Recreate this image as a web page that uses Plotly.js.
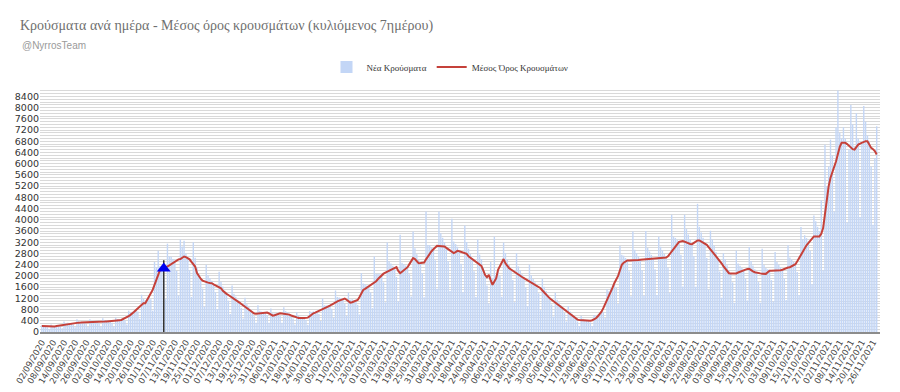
<!DOCTYPE html>
<html>
<head>
<meta charset="utf-8">
<script src="https://cdn.plot.ly/plotly-3.0.1.min.js"></script>
<style>html,body{margin:0;padding:0;background:#fff;}#chart{width:900px;height:392px;}</style>
</head>
<body>
<div id="chart"></div>
<script>
// First day of the series (02/09/2020), one value per day
const startDate = '2020-09-02';

// Daily new cases (Νέα Κρούσματα)
const newCases = [
  240,215,210,165,105,270,215,
  225,215,230,190,130,372,320,
  330,318,322,270,170,453,380,
  365,350,342,290,175,455,400,
  390,365,360,300,185,490,430,
  410,400,375,330,190,520,460,
  460,455,470,410,270,760,700,
  720,760,800,730,470,1330,1180,
  1130,1190,1260,1170,760,2500,2300,
  2900,2350,2250,1950,1170,3150,2700,
  2680,2600,2550,2180,1300,3300,3050,
  3250,2800,2600,2200,1250,3200,2650,
  2300,2080,1900,1550,900,2400,2020,
  1920,1830,1700,1420,820,2150,1790,
  1620,1470,1360,1120,640,1660,1360,
  1260,1150,1050,850,480,1220,990,
  890,800,700,560,330,950,760,
  730,700,680,590,330,840,670,
  660,660,650,570,330,880,745,
  710,650,590,480,270,700,575,
  540,520,500,430,260,750,710,
  735,725,720,640,390,1200,955,
  945,945,940,830,510,1480,1250,
  1230,1210,1180,1010,575,1400,1150,
  1170,1130,1110,970,625,2100,1725,
  1700,1660,1620,1410,850,2690,2080,
  2080,2060,2040,1770,1060,3190,2520,
  2440,2360,2280,1960,1090,3470,2470,
  2420,2370,2310,2060,1270,3580,2990,
  2770,2580,2460,2100,1240,4300,3100,
  3090,3020,2950,2560,1540,4300,3520,
  3360,3200,3000,2520,1460,4040,3230,
  3135,3040,2880,2430,1420,3800,3210,
  2970,2780,2600,2170,1250,3300,2760,
  2600,2300,2030,1660,1020,2500,1930,
  3400,2010,2220,2000,1260,3190,2820,
  2585,2390,2230,1850,1065,2810,2340,
  2200,2060,1920,1600,920,2400,2020,
  1890,1775,1650,1380,780,1900,1610,
  1460,1330,1200,980,550,1400,1150,
  1060,955,860,680,375,930,735,
  650,570,490,375,215,570,470,
  440,415,395,340,210,610,560,
  620,670,730,720,500,1520,1450,
  1560,1660,1750,1580,1000,3070,2750,
  2720,2640,2550,2170,1275,3580,2930,
  2815,2700,2580,2200,1295,3600,3000,
  2870,2750,2630,2240,1320,3400,3040,
  2910,2780,2660,2300,1390,4180,3400,
  3355,3290,3210,2750,1620,4180,3670,
  3480,3300,3130,2700,1615,4570,3750,
  3550,3360,3150,2640,1515,3610,3300,
  3080,2850,2630,2160,1225,2810,2590,
  2380,2200,2090,1770,1040,2900,2440,
  2365,2280,2200,1900,1125,3030,2530,
  2375,2235,2110,1780,1045,2970,2390,
  2280,2240,2180,1850,1090,2850,2500,
  2400,2310,2220,1910,1140,3090,2660,
  2585,2500,2420,2140,1320,3740,3310,
  3450,3350,3250,2900,1700,4150,3950,
  3750,3600,4690,2200,6680,5200,5900,
  6860,6300,4300,7290,8610,7100,6900,
  7300,6900,3900,6500,8090,7400,6600,
  7800,6900,4100,6700,8060,7500,7000,
  6800,5900,3820,6200,7340
];

// Rolling 7-day average (Μέσος Όρος Κρουσμάτων)
const movingAvg = [
  214,210,205,200,197,193,190,
  200,210,220,230,248,267,286,
  295,305,315,324,333,333,334,
  335,336,337,338,339,340,344,
  348,352,356,360,364,368,370,
  375,378,381,384,387,390,398,
  415,430,460,490,524,565,610,
  650,720,786,850,920,990,1024,
  1024,1130,1250,1380,1500,1680,1858,
  2040,2216,2260,2300,2320,2335,2380,
  2430,2480,2530,2573,2590,2600,2650,
  2692,2670,2630,2590,2500,2420,2335,
  2100,1977,1900,1830,1800,1780,1760,
  1745,1739,1700,1670,1640,1596,1560,
  1470,1400,1360,1320,1280,1230,1180,
  1144,1100,1050,1000,950,905,860,
  810,760,700,660,655,658,660,
  665,670,680,691,660,620,584,
  600,630,650,667,660,655,648,
  643,620,590,560,540,520,500,
  489,495,500,505,512,560,620,
  667,690,720,750,780,800,830,
  860,900,940,980,1024,1060,1090,
  1120,1150,1180,1191,1150,1100,1048,
  1060,1080,1110,1144,1250,1380,1500,
  1540,1580,1620,1660,1700,1739,1810,
  1890,1960,2037,2080,2120,2156,2190,
  2220,2250,2280,2311,2180,2097,2150,
  2200,2260,2311,2420,2530,2633,2600,
  2520,2454,2460,2470,2478,2590,2700,
  2812,2880,2950,3010,3073,3070,3060,
  3055,3049,3000,2960,2920,2870,2812,
  2850,2895,2880,2860,2840,2820,2790,
  2700,2650,2600,2550,2500,2450,2400,
  2359,2200,2030,1954,2037,1850,1680,
  1800,1918,2216,2350,2514,2600,2450,
  2350,2275,2230,2180,2130,2080,2037,
  2000,1960,1920,1880,1835,1800,1760,
  1720,1690,1650,1620,1560,1480,1400,
  1330,1263,1200,1150,1100,1040,1000,
  965,910,860,800,750,691,640,
  590,540,490,440,429,420,410,
  400,395,393,400,420,450,489,
  560,640,727,850,990,1130,1263,
  1420,1580,1750,1858,2000,2200,2395,
  2470,2510,2550,2550,2550,2550,2550,
  2560,2570,2580,2585,2590,2597,2605,
  2612,2620,2627,2633,2638,2640,2643,
  2647,2650,2657,2700,2780,2871,2960,
  3050,3130,3210,3230,3240,3220,3190,
  3160,3140,3133,3180,3230,3264,3264,
  3230,3200,3150,3109,3030,2950,2871,
  2800,2720,2630,2537,2450,2350,2250,
  2160,2097,2090,2085,2085,2090,2120,
  2150,2170,2200,2230,2250,2252,2200,
  2160,2130,2110,2097,2090,2080,2075,
  2073,2130,2180,2180,2180,2180,2180,
  2180,2200,2220,2250,2275,2299,2310,
  2350,2380,2418,2520,2640,2752,2880,
  3000,3090,3168,3250,3330,3407,3407,
  3407,3407,3500,3705,4200,4778,5200,
  5500,5671,5850,6087,6350,6600,6744,
  6744,6744,6700,6650,6580,6520,6505,
  6600,6683,6720,6750,6780,6803,6800,
  6700,6565,6520,6450,6326
];

// Marker: start of the second lockdown
const markerDate = '2020-11-07';
const markerLineTop = 2560;
const markerTriangleY = 2260;

const seriesNames = ['Νέα Κρούσματα', 'Μέσος Όρος Κρουσμάτων'];

const t0 = Date.UTC(2020, 8, 2);
const dates = newCases.map((_, i) => new Date(t0 + i * 86400000).toISOString().slice(0, 10));

const traces = [
  {
    type: 'bar', x: dates, y: newCases, name: seriesNames[0],
    marker: {color: '#c3d6f6'}, hoverinfo: 'skip'
  },
  {
    type: 'scatter', mode: 'lines', x: dates, y: movingAvg, name: seriesNames[1],
    line: {color: '#c5413a', width: 2}, hoverinfo: 'skip'
  },
  {
    type: 'scatter', mode: 'lines', x: [markerDate, markerDate], y: [0, markerLineTop],
    line: {color: '#333333', width: 1.5}, showlegend: false, hoverinfo: 'skip'
  },
  {
    type: 'scatter', mode: 'markers', x: [markerDate], y: [markerTriangleY],
    marker: {symbol: 'triangle-up', size: 12, color: '#0000ee'}, showlegend: false, hoverinfo: 'skip'
  }
];

const layout = {
  width: 900, height: 392,
  margin: {l: 40, r: 20, t: 88, b: 60},
  paper_bgcolor: '#ffffff', plot_bgcolor: '#ffffff',
  bargap: 0.25,
  showlegend: true,
  title: {
    text: 'Κρούσματα ανά ημέρα - Μέσος όρος κρουσμάτων (κυλιόμενος 7ημέρου)',
    x: 20/900, xref: 'container', xanchor: 'left', y: 1 - 25/392, yref: 'container', yanchor: 'middle',
    font: {family: 'Liberation Serif, serif', size: 14, color: '#6f6f6f'}
  },
  annotations: [{
    text: '@NyrrosTeam', xref: 'paper', yref: 'paper', x: -20/840, y: 1 + (87-45)/244,
    xanchor: 'left', yanchor: 'middle', showarrow: false,
    font: {family: 'Liberation Sans, Arial, sans-serif', size: 10, color: '#9a9a9a'}
  }],
  legend: {
    orientation: 'h', xref: 'container', yref: 'container', x: 0.5, xanchor: 'center',
    y: 1 - 67/392, yanchor: 'middle',
    font: {family: 'Liberation Serif, serif', size: 9, color: '#333'},
    itemwidth: 30, bgcolor: 'rgba(0,0,0,0)'
  },
  xaxis: {
    type: 'date',
    range: ['2020-09-01', '2021-11-29 19:00'],
    tick0: startDate, dtick: 6 * 86400000, tickformat: '%d/%m/%Y',
    tickangle: -60, tickfont: {family: 'DejaVu Sans, sans-serif', size: 8.5, color: '#444'},
    showgrid: false, showline: true, linecolor: '#8c8c8c', linewidth: 2,
    ticks: '', automargin: false, zeroline: false
  },
  yaxis: {
    range: [0, 8700], dtick: 400, tick0: 0,
    tickfont: {family: 'DejaVu Sans, sans-serif', size: 9.5, color: '#333'},
    showgrid: true, gridcolor: '#d9d9d9', gridwidth: 1,
    minor: {dtick: 100, showgrid: true, gridcolor: '#d9d9d9', gridwidth: 1},
    zeroline: false, ticks: '', automargin: false, fixedrange: true
  }
};

Plotly.newPlot('chart', traces, layout, {displayModeBar: false, staticPlot: true});
</script>
</body>
</html>
